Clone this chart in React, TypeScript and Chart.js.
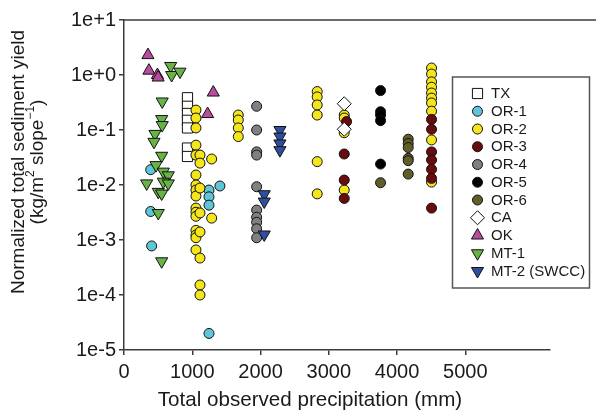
import React, { useEffect, useRef } from 'react';
import { Chart, registerables } from 'chart.js';

Chart.register(...registerables);

// ---- axis ticks ----
const X_TICKS = [0, 1000, 2000, 3000, 4000, 5000];
const Y_TICKS = [1e-5, 1e-4, 1e-3, 1e-2, 1e-1, 1e0, 1e1];
const Y_TICK_LABELS = ['1e-5', '1e-4', '1e-3', '1e-2', '1e-1', '1e+0', '1e+1'];
const X_MIN = 0;
const X_MAX = 6240;

// ---- titles ----
const X_TITLE = 'Total observed precipitation (mm)';
const Y_TITLE_1 = 'Normalized total sediment yield';

// ---- series data: [precipitation mm, normalized yield] ----
const TX: number[][] = [
  [930, 0.386], [930, 0.27], [930, 0.2], [930, 0.15], [930, 0.109], [930, 0.047], [930, 0.033],
];
const OR1: number[][] = [
  [391, 0.019], [391, 0.0033], [405, 0.00078], [1405, 0.0096], [1245, 0.0081], [1245, 0.0061],
  [1245, 0.0043], [1245, 0.00002],
];
const OR2: number[][] = [
  [1054, 0.23], [1054, 0.165], [1054, 0.109], [1054, 0.053], [1054, 0.035], [1054, 0.0152],
  [1054, 0.01], [1054, 0.0081], [1054, 0.0063], [1054, 0.0038], [1054, 0.0032], [1054, 0.0027],
  [1054, 0.0015], [1054, 0.00123], [1054, 0.0011], [1054, 0.00066],
  [1113, 0.035], [1113, 0.025], [1113, 0.0088], [1113, 0.0031], [1113, 0.0014], [1113, 0.00047],
  [1113, 0.000152], [1113, 0.0001],
  [1284, 0.0297], [1284, 0.0025],
  [1674, 0.187], [1674, 0.152], [1674, 0.109], [1674, 0.076],
  [2830, 0.5], [2830, 0.4], [2830, 0.285], [2830, 0.187], [2830, 0.0266], [2830, 0.0069],
  [3226, 0.187], [3226, 0.165], [3226, 0.089], [3226, 0.0081],
  [4505, 1.34], [4505, 1.04], [4505, 0.75], [4505, 0.6], [4505, 0.47], [4505, 0.38], [4505, 0.31],
  [4505, 0.22], [4505, 0.066], [4505, 0.0113],
];
const OR3: number[][] = [
  [3260, 0.142], [3226, 0.0366], [3226, 0.0123], [3226, 0.0057],
  [4505, 0.156], [4505, 0.103], [4505, 0.04], [4505, 0.0285], [4505, 0.0193], [4505, 0.0132],
  [4505, 0.0038],
];
const OR4: number[][] = [
  [1943, 0.27], [1943, 0.1], [1943, 0.04], [1943, 0.035], [1943, 0.0093], [1943, 0.0035],
  [1943, 0.0026], [1943, 0.0021], [1943, 0.0016], [1943, 0.0011],
];
const OR5: number[][] = [
  [3758, 0.52], [3758, 0.215], [3758, 0.187], [3758, 0.148], [3758, 0.024],
];
const OR6: number[][] = [
  [3758, 0.011], [4163, 0.068], [4163, 0.057], [4163, 0.048], [4163, 0.0306], [4163, 0.0277],
  [4163, 0.0158],
];
const CA: number[][] = [[3226, 0.3], [3226, 0.103]];
const OK: number[][] = [
  [351, 2.3], [365, 1.2], [490, 1.0], [500, 0.9], [1308, 0.48], [1225, 0.195],
];
const MT1: number[][] = [
  [684, 1.46], [698, 1.0], [820, 1.15], [560, 0.33], [552, 0.158], [560, 0.123], [454, 0.085],
  [439, 0.061], [552, 0.034], [469, 0.023], [576, 0.0175], [649, 0.015], [332, 0.0107],
  [576, 0.0115], [649, 0.0107], [502, 0.0075], [552, 0.007], [502, 0.0031], [552, 0.00041],
];
const MT2: number[][] = [
  [2284, 0.1], [2284, 0.076], [2284, 0.057], [2284, 0.043], [2054, 0.0068], [2054, 0.005],
  [2054, 0.00126],
];

type Shape = 'circle' | 'square' | 'diamond' | 'up' | 'down';
const SERIES: { label: string; data: number[][]; color: string; shape: Shape }[] = [
  { label: 'TX', data: TX, color: '#ffffff', shape: 'square' },
  { label: 'OR-1', data: OR1, color: '#5ec6d6', shape: 'circle' },
  { label: 'OR-2', data: OR2, color: '#f4e61a', shape: 'circle' },
  { label: 'OR-3', data: OR3, color: '#6a0b0e', shape: 'circle' },
  { label: 'OR-4', data: OR4, color: '#808080', shape: 'circle' },
  { label: 'OR-5', data: OR5, color: '#000000', shape: 'circle' },
  { label: 'OR-6', data: OR6, color: '#5f5e28', shape: 'circle' },
  { label: 'CA', data: CA, color: '#ffffff', shape: 'diamond' },
  { label: 'OK', data: OK, color: '#b94c9e', shape: 'up' },
  { label: 'MT-1', data: MT1, color: '#68b346', shape: 'down' },
  { label: 'MT-2 (SWCC)', data: MT2, color: '#2f4f9e', shape: 'down' },
];

const FONT = '"Liberation Sans", Arial, Helvetica, sans-serif';
const AXIS_COLOR = '#3c3c3c';
const TEXT_COLOR = '#1a1a1a';

function styleFor(shape: Shape) {
  switch (shape) {
    case 'circle': return { pointStyle: 'circle', radius: 5, rotation: 0 };
    case 'square': return { pointStyle: 'rect', radius: 7.2, rotation: 0 };
    case 'diamond': return { pointStyle: 'rectRot', radius: 7, rotation: 0 };
    case 'up': return { pointStyle: 'triangle', radius: 7, rotation: 0 };
    case 'down': return { pointStyle: 'triangle', radius: 7, rotation: 180 };
  }
}

function drawMarker(ctx: CanvasRenderingContext2D, shape: Shape, x: number, y: number, fill: string) {
  ctx.beginPath();
  if (shape === 'circle') {
    ctx.arc(x, y, 5, 0, Math.PI * 2);
  } else if (shape === 'square') {
    const s = 7.2 * Math.SQRT1_2;
    ctx.rect(x - s, y - s, 2 * s, 2 * s);
  } else if (shape === 'diamond') {
    const r = 7;
    ctx.moveTo(x, y - r); ctx.lineTo(x + r, y); ctx.lineTo(x, y + r); ctx.lineTo(x - r, y); ctx.closePath();
  } else {
    const r = 7;
    const dir = shape === 'up' ? 1 : -1;
    const h = Math.sin(Math.PI / 3) * r;
    ctx.moveTo(x, y - dir * r);
    ctx.lineTo(x + h, y + dir * r / 2);
    ctx.lineTo(x - h, y + dir * r / 2);
    ctx.closePath();
  }
  ctx.fillStyle = fill;
  ctx.fill();
  ctx.lineWidth = 1;
  ctx.strokeStyle = '#111';
  ctx.stroke();
}

const decorPlugin = {
  id: 'decor',
  afterDraw(chart: any) {
    const ctx: CanvasRenderingContext2D = chart.ctx;
    const a = chart.chartArea;
    ctx.save();
    // top frame line
    ctx.strokeStyle = AXIS_COLOR;
    ctx.lineWidth = 1.5;
    ctx.beginPath();
    ctx.moveTo(a.left, a.top);
    ctx.lineTo(chart.width, a.top);
    ctx.stroke();

    // x title
    ctx.fillStyle = TEXT_COLOR;
    ctx.font = `20.6px ${FONT}`;
    ctx.textAlign = 'center';
    ctx.textBaseline = 'middle';
    ctx.fillText(X_TITLE, 310, 400);

    // y title (rotated)
    ctx.save();
    ctx.translate(19, 162);
    ctx.rotate(-Math.PI / 2);
    ctx.font = `19px ${FONT}`;
    ctx.fillText(Y_TITLE_1, 0, 0);
    // second line with superscripts
    const parts: [string, boolean][] = [['(kg/m', false], ['2', true], [' slope', false], ['\u22121', true], [')', false]];
    const big = `19px ${FONT}`;
    const small = `12px ${FONT}`;
    let total = 0;
    for (const [t, sup] of parts) { ctx.font = sup ? small : big; total += ctx.measureText(t).width; }
    let cx = -total / 2;
    ctx.textAlign = 'left';
    for (const [t, sup] of parts) {
      ctx.font = sup ? small : big;
      ctx.fillText(t, cx, sup ? 19 - 7 : 19);
      cx += ctx.measureText(t).width;
    }
    ctx.restore();

    // legend
    const lx = 452.5, ly = 77, lw = 137, lh = 211;
    ctx.fillStyle = '#ffffff';
    ctx.fillRect(lx, ly, lw, lh);
    ctx.strokeStyle = '#555';
    ctx.lineWidth = 1.5;
    ctx.strokeRect(lx, ly, lw, lh);
    ctx.textAlign = 'left';
    ctx.textBaseline = 'middle';
    SERIES.forEach((s, i) => {
      const yy = 93.5 + i * 17.75;
      drawMarker(ctx, s.shape, 477.5, yy, s.color);
      ctx.fillStyle = TEXT_COLOR;
      ctx.font = `15px ${FONT}`;
      ctx.fillText(s.label, 491, yy + 0.5);
    });
    ctx.restore();
  },
};

export default function App() {
  const ref = useRef<HTMLCanvasElement | null>(null);

  useEffect(() => {
    if (!ref.current) return;
    const n = SERIES.length;
    const datasets = SERIES.map((s, i) => {
      const st = styleFor(s.shape)!;
      return {
        label: s.label,
        data: s.data.map(([x, y]) => ({ x, y })),
        backgroundColor: s.color,
        borderColor: '#111',
        borderWidth: 1,
        pointStyle: st.pointStyle as any,
        pointRadius: st.radius,
        pointRotation: st.rotation,
        pointHoverRadius: st.radius,
        order: n - i,
      };
    });

    const chart = new Chart(ref.current, {
      type: 'scatter',
      data: { datasets },
      options: {
        animation: false,
        responsive: false,
        devicePixelRatio: 1,
        layout: { padding: { left: 0, top: 20, right: 46, bottom: 0 } },
        plugins: { legend: { display: false }, tooltip: { enabled: false } },
        scales: {
          x: {
            type: 'linear',
            min: X_MIN,
            max: X_MAX,
            afterBuildTicks: (scale: any) => { scale.ticks = X_TICKS.map((v) => ({ value: v })); },
            afterFit: (scale: any) => { scale.height = 62; },
            ticks: {
              color: TEXT_COLOR,
              font: { family: FONT, size: 20 },
              padding: 5,
              maxRotation: 0,
              callback: (v: any) => String(v),
            },
            grid: { drawOnChartArea: false, drawTicks: true, tickLength: 5, tickColor: AXIS_COLOR, lineWidth: 1.5 },
            border: { display: true, color: AXIS_COLOR, width: 1.5 },
          },
          y: {
            type: 'logarithmic',
            min: Y_TICKS[0],
            max: Y_TICKS[Y_TICKS.length - 1],
            afterBuildTicks: (scale: any) => { scale.ticks = Y_TICKS.map((v) => ({ value: v })); },
            afterFit: (scale: any) => { scale.width = 124; },
            ticks: {
              color: TEXT_COLOR,
              font: { family: FONT, size: 20 },
              padding: 3,
              callback: (v: any) => {
                const idx = Y_TICKS.findIndex((t) => Math.abs(Math.log10(t) - Math.log10(v)) < 1e-6);
                return idx >= 0 ? Y_TICK_LABELS[idx] : '';
              },
            },
            grid: { drawOnChartArea: false, drawTicks: true, tickLength: 5, tickColor: AXIS_COLOR, lineWidth: 1.5 },
            border: { display: true, color: AXIS_COLOR, width: 1.5 },
          },
        },
      } as any,
      plugins: [decorPlugin],
    });
    return () => chart.destroy();
  }, []);

  return (
    <div style={{ position: 'fixed', left: 0, top: 0, width: 596, height: 412, background: '#fff' }}>
      <canvas ref={ref} width={596} height={412} style={{ display: 'block' }} />
    </div>
  );
}
